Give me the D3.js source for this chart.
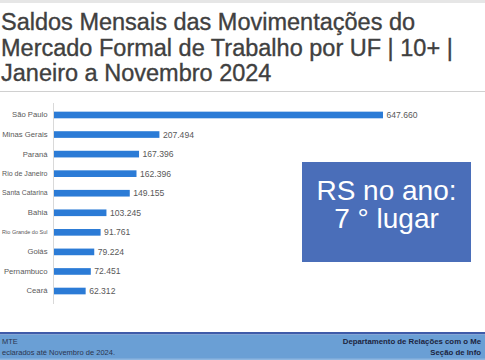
<!DOCTYPE html>
<html><head><meta charset="utf-8">
<script src="https://cdn.jsdelivr.net/npm/d3@7"></script>
<style>
html,body{margin:0;padding:0;background:#fff;overflow:hidden}
svg{display:block}
</style></head>
<body>
<svg id="c" width="485" height="360"></svg>
<script>
const categories = ["São Paulo","Minas Gerais","Paraná","Rio de Janeiro","Santa Catarina","Bahia","Rio Grande do Sul","Goiás","Pernambuco","Ceará"];
const values = [647660,207494,167396,162396,149155,103245,91761,79224,72451,62312];
const titleLines = ["Saldos Mensais das Movimentações do","Mercado Formal de Trabalho por UF | 10+ |","Janeiro a Novembro 2024"];
const boxLines = ["RS no ano:","7 ° lugar"];
const footerLeft = ["MTE","eclarados até Novembro de 2024."];
const footerRight = ["Departamento de Relações com o Me","Seção de Info"];

const svg = d3.select("#c");
const W = 485, H = 360;
const fmt = d3.formatLocale({decimal:",",thousands:".",grouping:[3],currency:["R$",""]}).format(",d");
const tFont = "'Liberation Sans', Arial, sans-serif";

// top band
svg.append("rect").attr("x",0).attr("y",0).attr("width",W).attr("height",3).attr("fill","#e6e6e6");

// title
const ty = [30, 56, 81];
titleLines.forEach((t,i)=>{
  svg.append("text").attr("x",1).attr("y",ty[i]).text(t)
    .attr("font-family",tFont).attr("font-size",23.5).attr("fill","#404040")
    .attr("stroke","#404040").attr("stroke-width",0.35);
});
svg.append("line").attr("x1",0).attr("x2",W).attr("y1",91.5).attr("y2",91.5).attr("stroke","#d0d0d0").attr("stroke-width",1.2);

// chart
const x = d3.scaleLinear().domain([0, d3.max(values)]).range([54, 383]);
const y = d3.scaleBand().domain(categories).range([105.2, 300.8]).paddingInner(0.66).paddingOuter(0.33);

const axis = d3.axisLeft(y).tickSize(0).tickPadding(6);
const ag = svg.append("g").attr("transform","translate(53.5,0)").call(axis);
ag.select(".domain").remove();
ag.selectAll("text").attr("font-family",tFont).attr("font-size",7.7).attr("fill","#595959")
  .each(function(){
    const len = this.getComputedTextLength();
    const avail = 45.5;
    if (len > avail) d3.select(this).attr("font-size", 7.7*avail/len);
  });
svg.append("line").attr("x1",53.5).attr("x2",53.5).attr("y1",103).attr("y2",304).attr("stroke","#d9d9d9").attr("stroke-width",1);

const data = categories.map((c,i)=>({c, v: values[i]}));
svg.append("g").selectAll("rect").data(data).join("rect")
  .attr("x", x(0)).attr("y", d=>y(d.c)).attr("width", d=>x(d.v)-x(0)).attr("height", y.bandwidth())
  .attr("fill","#2B7BD6");
svg.append("g").selectAll("text").data(data).join("text")
  .attr("x", d=>x(d.v)+3.5).attr("y", d=>y(d.c)+y.bandwidth()/2).attr("dy","0.35em")
  .text(d=>fmt(d.v))
  .attr("font-family",tFont).attr("font-size",8.6).attr("fill","#595959");

// callout box
svg.append("rect").attr("x",302).attr("y",162).attr("width",169).attr("height",100).attr("fill","#4A6EB9");
boxLines.forEach((t,i)=>{
  svg.append("text").attr("x",386.5).attr("y",[200,228][i]).attr("text-anchor","middle").text(t)
    .attr("font-family",tFont).attr("font-size",28).attr("fill","#ffffff");
});

// footer
svg.append("rect").attr("x",0).attr("y",332).attr("width",W).attr("height",2.5).attr("fill","#3E5BA9");
svg.append("rect").attr("x",0).attr("y",334.5).attr("width",W).attr("height",25.5).attr("fill","#6A9FD5");
svg.append("rect").attr("x",0).attr("y",358.5).attr("width",W).attr("height",1.5).attr("fill","#8DB6E0");
svg.append("text").attr("x",2).attr("y",344).text(footerLeft[0]).attr("font-family",tFont).attr("font-size",7.5).attr("fill","#2a3550");
svg.append("text").attr("x",2).attr("y",355).text(footerLeft[1]).attr("font-family",tFont).attr("font-size",7.5).attr("fill","#2a3550");
svg.append("text").attr("x",481).attr("y",344).attr("text-anchor","end").text(footerRight[0]).attr("font-family",tFont).attr("font-weight","bold").attr("font-size",7.8).attr("fill","#1c2440");
svg.append("text").attr("x",481).attr("y",355).attr("text-anchor","end").text(footerRight[1]).attr("font-family",tFont).attr("font-weight","bold").attr("font-size",7.8).attr("fill","#1c2440");
</script>
</body></html>
